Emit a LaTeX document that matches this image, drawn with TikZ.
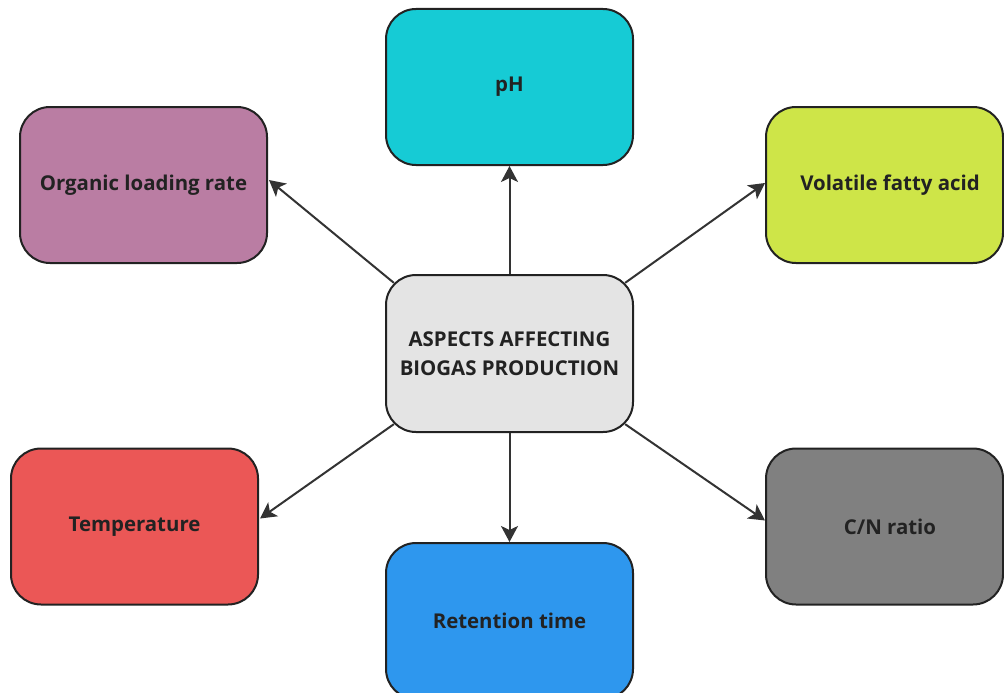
\documentclass[tikz,border=0pt]{standalone}
\usepackage{fontspec}
\setmainfont{Open Sans}
\usetikzlibrary{arrows.meta,calc}
\definecolor{edgeclr}{HTML}{222222}
\definecolor{lineclr}{HTML}{333333}
\definecolor{phclr}{HTML}{16CBD5}
\definecolor{olrclr}{HTML}{BA7DA3}
\definecolor{vfaclr}{HTML}{CEE548}
\definecolor{hubclr}{HTML}{E4E4E4}
\definecolor{tempclr}{HTML}{EB5756}
\definecolor{retclr}{HTML}{2E97EE}
\definecolor{cnclr}{HTML}{808080}
\tikzset{
  factor/.style={draw=edgeclr, line width=2pt, rounded corners=30pt,
    minimum width=247pt, minimum height=156pt, align=center,
    text=edgeclr, font=\fontsize{20.4}{29}\selectfont\bfseries, inner sep=0pt},
  link/.style={draw=lineclr, line width=2pt,
    -{Stealth[length=16pt,width=17pt,inset=4pt]}}
}
\begin{document}
\begin{tikzpicture}[x=1pt,y=-1pt]
  \useasboundingbox (0,0) rectangle (1004,693);
  \clip (0,0) rectangle (1004,693);
  \fill[white] (0,0) rectangle (1004,693);

  % central topic
  \node[factor, fill=hubclr, minimum height=157pt] (hub) at (509.5,353.5)
    {ASPECTS AFFECTING\\BIOGAS PRODUCTION};

  % surrounding factors
  \node[factor, fill=phclr] (ph) at (509.5,87) {pH};
  \node[factor, fill=olrclr] (olr) at (143.5,185) {Organic loading rate};
  \node[factor, fill=vfaclr, minimum width=237pt] (vfa) at (884.5,185)
    {\hspace*{11pt}Volatile fatty acid};
  \node[factor, fill=tempclr] (temp) at (134.5,526.5) {Temperature};
  \node[factor, fill=retclr] (ret) at (509.5,621) {Retention time};
  \node[factor, fill=cnclr, minimum width=237pt] (cn) at (884.5,526.5)
    {\hspace*{11pt}C/N ratio};

  % arrow start points on the rounded corners of the hub
  \coordinate (hubnw) at ($(hub.north west)+(8.8,8.8)$);
  \coordinate (hubne) at ($(hub.north east)+(-8.8,8.8)$);
  \coordinate (hubsw) at ($(hub.south west)+(8.8,-8.8)$);
  \coordinate (hubse) at ($(hub.south east)+(-8.8,-8.8)$);

  \draw[link] (hub.north) -- (ph.south);
  \draw[link] (hubnw) -- ($(olr.east)+(1,-5)$);
  \draw[link] (hubne) -- ($(vfa.west)+(0,-2)$);
  \draw[link] (hubsw) -- ($(temp.east)+(1,-8)$);
  \draw[link] (hub.south) -- (ret.north);
  \draw[link] (hubse) -- ($(cn.west)+(0,-6)$);
\end{tikzpicture}
\end{document}
